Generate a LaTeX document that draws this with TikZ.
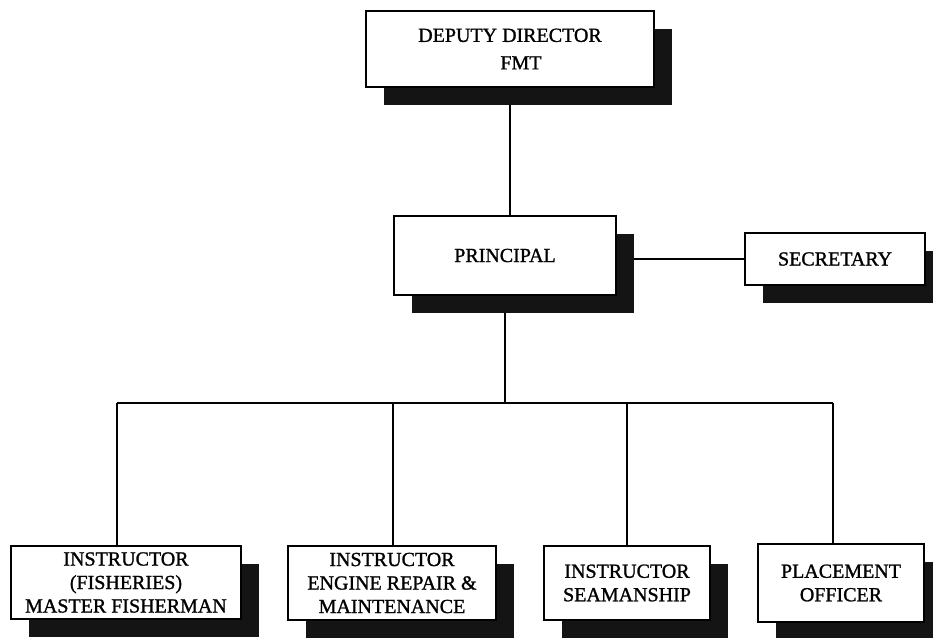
\documentclass[tikz,border=0pt]{standalone}
\usepackage{fontspec}
\setmainfont[FakeBold=1.2]{Liberation Serif}
\usetikzlibrary{shadows,backgrounds}
\begin{document}
\begin{tikzpicture}[x=1pt,y=-1pt,
  box/.style={draw=black, line width=2.8pt, fill=white, align=center, inner sep=0pt,
    font=\fontsize{20}{23.5}\selectfont,
    general shadow={fill=black!92, draw=none, shadow xshift=18pt, shadow yshift=-18pt}},
  link/.style={line width=2.2pt}]
\useasboundingbox (0,0) rectangle (933,637);

% boxes
\node[box, minimum width=288pt, minimum height=76pt] (dd) at (510,49)
  {DEPUTY DIRECTOR\\[4pt]\hspace*{22pt}FMT};
\node[box, minimum width=222pt, minimum height=79pt] (pr) at (505,255.5) {PRINCIPAL};
\node[box, minimum width=180pt, minimum height=52pt] (se) at (835,259) {SECRETARY};
\node[box, minimum width=230pt, minimum height=73pt] (b1) at (126,582.5)
  {INSTRUCTOR\\(FISHERIES)\\MASTER FISHERMAN};
\node[box, minimum width=208pt, minimum height=74pt] (b2) at (392,583)
  {INSTRUCTOR\\ENGINE REPAIR \&\\MAINTENANCE};
\node[box, minimum width=166pt, minimum height=74pt] (b3) at (627,583)
  {INSTRUCTOR\\SEAMANSHIP};
\node[box, minimum width=166pt, minimum height=78pt] (b4) at (841,583)
  {PLACEMENT\\OFFICER};

% junctions on the distribution line
\coordinate (j1) at (117,403);
\coordinate (j2) at (393,403);
\coordinate (j3) at (627,403);
\coordinate (j4) at (833,403);

% connectors
\begin{scope}[on background layer]
  \draw[link] (dd.south) -- (dd.south |- pr.north);
  \draw[link] (pr.east |- se.west) -- (se.west);
  \draw[link] (pr.south) -- (pr.south |- j1);
  \draw[link] (j1) -- (j4);
  \draw[link] (j1) -- (j1 |- b1.north);
  \draw[link] (j2) -- (j2 |- b2.north);
  \draw[link] (j3) -- (j3 |- b3.north);
  \draw[link] (j4) -- (j4 |- b4.north);
\end{scope}
\end{tikzpicture}
\end{document}
